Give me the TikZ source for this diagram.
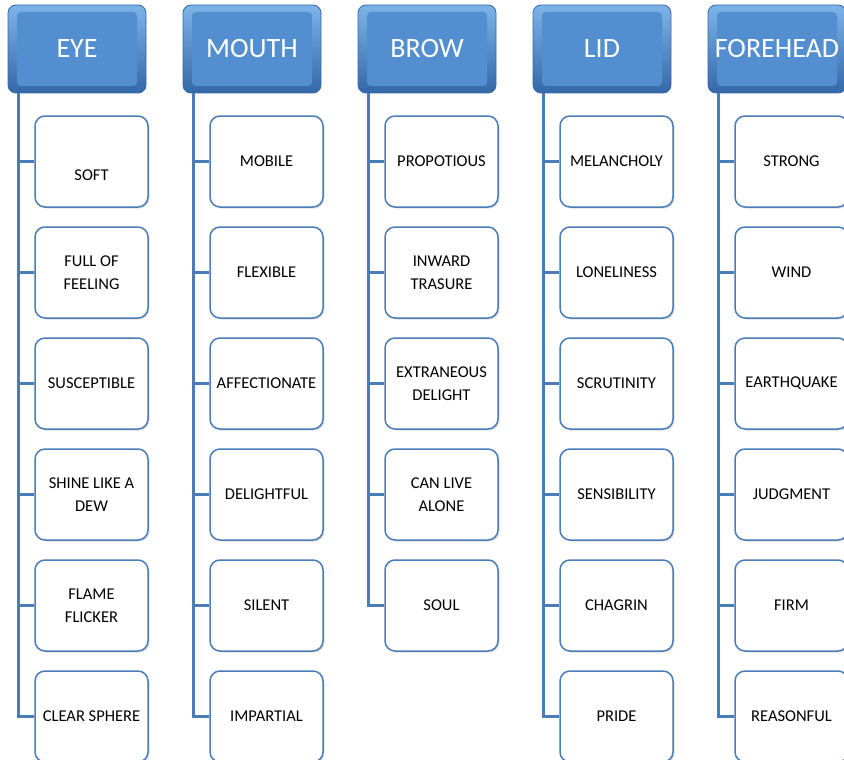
\documentclass[tikz,border=0pt]{standalone}
\usepackage{fontspec}
\setmainfont{Carlito}
\usetikzlibrary{shadows}
\definecolor{linec}{RGB}{74,124,184}
\definecolor{hdrtop}{RGB}{125,180,232}
\definecolor{hdrbot}{RGB}{52,104,168}
\definecolor{hdrin}{RGB}{82,142,208}
\tikzset{
  hdr/.style={rounded corners=8pt, minimum width=138pt, minimum height=88pt,
    inner sep=0pt, top color=hdrtop, bottom color=hdrbot, draw=hdrbot, line width=0.8pt,
    text=white, font=\fontsize{28}{30}\selectfont,
    path picture={\fill[hdrin, rounded corners=4pt]
      ([shift={(9pt,-7pt)}]path picture bounding box.north west) rectangle
      ([shift={(-9pt,7pt)}]path picture bounding box.south east);}},
  child/.style={rounded corners=10pt, draw=linec, line width=1.5pt, fill=white,
    minimum width=113pt, minimum height=91pt, inner sep=1pt, align=center,
    font=\fontsize{16.5}{23}\selectfont, text=black,
    drop shadow={shadow xshift=1.5pt, shadow yshift=-1.5pt, opacity=0.25}},
  conn/.style={draw=linec, line width=2.6pt}
}
\newcommand\facecol[4]{% index, x0, title, items
  \node[hdr] (h#1) at (#2+69, 49) {#3};
  \coordinate (t#1) at ([xshift=11pt]h#1.south west);
  \foreach \txt [count=\k] in {#4} {
    \node[child] (c#1-\k) at (#2+83.5, 161.5+111*\k-111) {\txt};
  }
  \foreach \txt [count=\k] in {#4} {
    \draw[conn] (t#1) |- (c#1-\k.west);
  }
}
\begin{document}
\begin{tikzpicture}[x=1pt,y=-1pt]
\useasboundingbox (0,0) rectangle (844,760);
\facecol{1}{8}{EYE}{{\mbox{}\\[16pt]SOFT},{FULL OF\\FEELING},SUSCEPTIBLE,{SHINE LIKE A\\DEW},{FLAME\\FLICKER},CLEAR SPHERE}
\facecol{2}{183}{MOUTH}{MOBILE,FLEXIBLE,AFFECTIONATE,DELIGHTFUL,SILENT,IMPARTIAL}
\facecol{3}{358}{BROW}{PROPOTIOUS,{INWARD\\TRASURE},{EXTRANEOUS\\DELIGHT},{CAN LIVE\\ALONE},SOUL}
\facecol{4}{533}{LID}{MELANCHOLY,LONELINESS,SCRUTINITY,SENSIBILITY,CHAGRIN,PRIDE}
\facecol{5}{708}{FOREHEAD}{STRONG,WIND,EARTHQUAKE,JUDGMENT,FIRM,REASONFUL}
\end{tikzpicture}
\end{document}
